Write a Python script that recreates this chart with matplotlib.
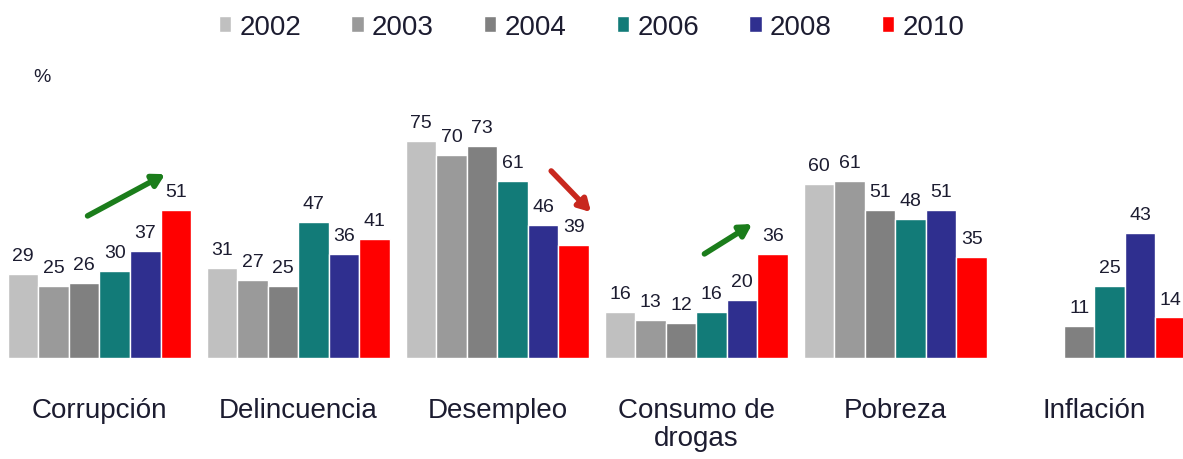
import numpy as np
import matplotlib.pyplot as plt

# === DATA =====================================================================
categories = ["Corrupción", "Delincuencia", "Desempleo", "Consumo de\ndrogas", "Pobreza", "Inflación"]
years = ["2002", "2003", "2004", "2006", "2008", "2010"]
v2002 = [29, 31, 75, 16, 60, np.nan]
v2003 = [25, 27, 70, 13, 61, np.nan]
v2004 = [26, 25, 73, 12, 51, 11]
v2006 = [30, 47, 61, 16, 48, 25]
v2008 = [37, 36, 46, 20, 51, 43]
v2010 = [51, 41, 39, 36, 35, 14]
series = [v2002, v2003, v2004, v2006, v2008, v2010]
colors = ["#c0c0c0", "#9a9a9a", "#808080", "#127b78", "#2f2f8f", "#ff0000"]

txt = "#1c1c30"
plt.rcParams['font.family'] = ['Liberation Sans', 'DejaVu Sans']

# === PLOT RENDERING ===========================================================
fig = plt.figure(figsize=(11.83, 4.6), dpi=100)
ax = fig.add_axes([0, 101 / 460, 1, 359 / 460])
ax.set_xlim(-0.5, 5.445)
ax.set_ylim(0, 123.8)

x = np.arange(len(categories))
w = 0.1533
for j, (vals, col, yr) in enumerate(zip(series, colors, years)):
    xs = x + (j - 2.5) * w
    ax.bar(xs, vals, width=w, color=col, edgecolor="white", linewidth=1, label=yr)
    for xi, v in zip(xs, vals):
        if not np.isnan(v):
            ax.annotate(f"{v:g}", (xi, v), xytext=(0, 10), textcoords="offset points",
                        ha="center", va="baseline", fontsize=14, color=txt)

# trend arrows
arrows = [((-0.06, 49), (0.33, 63.4), "#1b7d1b"),
          ((2.27, 64.5), (2.47, 50.3), "#c8281e"),
          ((3.04, 35.9), (3.28, 46.2), "#1b7d1b")]
for start, end, col in arrows:
    ax.annotate("", xy=end, xytext=start,
                arrowprops=dict(arrowstyle="-|>,head_length=0.7,head_width=0.4",
                                color=col, lw=4, shrinkA=0, shrinkB=0))

ax.set_xticks(x)
ax.set_xticklabels(categories, fontsize=20, color=txt, linespacing=1.1, va="top")
ax.tick_params(axis="x", length=0, pad=28)
ax.set_yticks([])
for s in ax.spines.values():
    s.set_visible(False)

fig.text(33 / 1183, 1 - 77 / 460, "%", fontsize=14, color=txt, va="center")

ax.legend(loc="center", bbox_to_anchor=(0.5, 1 - 28 / 359), bbox_transform=ax.transAxes,
          ncol=6, frameon=False, fontsize=20,
          handlelength=0.45, handleheight=0.5, handletextpad=0.3, columnspacing=1.8,
          labelcolor=txt)

plt.savefig("out.png", dpi=100)
